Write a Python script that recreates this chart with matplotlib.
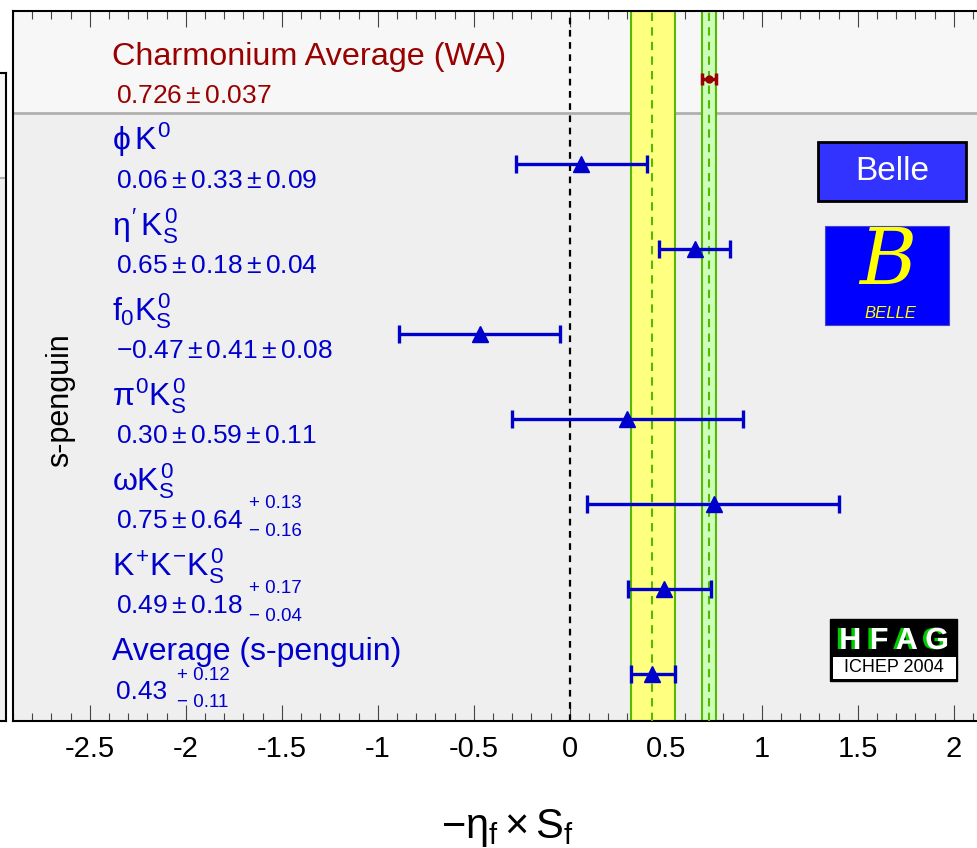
import matplotlib
matplotlib.use("Agg")
import matplotlib.pyplot as plt
import matplotlib.patches as patches
import matplotlib.patheffects as pe
import numpy as np

plt.rcParams['font.family'] = ['Liberation Sans', 'DejaVu Sans']
plt.rcParams['mathtext.fontset'] = 'custom'
plt.rcParams['mathtext.rm'] = 'Liberation Sans'
plt.rcParams['mathtext.it'] = 'Liberation Sans'
plt.rcParams['mathtext.sf'] = 'Liberation Sans'

# ---- data ----
modes = [r"$\phi\,K^0$", r"$\eta'\,K^0_S$", r"$f_0K^0_S$", r"$\pi^0K^0_S$",
         r"$\omega K^0_S$", r"$K^{{+}}K^{{-}}K^0_S$", "Average (s-penguin)"]
central = [0.06, 0.65, -0.47, 0.30, 0.75, 0.49, 0.43]
stat = [0.33, 0.18, 0.41, 0.59, 0.64, 0.18, 0.0]
syst_up = [0.09, 0.04, 0.08, 0.11, 0.13, 0.17, 0.12]
syst_dn = [0.09, 0.04, 0.08, 0.11, 0.16, 0.04, 0.11]
charm_val = 0.726
charm_err = 0.037
xticks = [-2.5, -2, -1.5, -1, -0.5, 0, 0.5, 1, 1.5, 2]
xticklabels = ['-2.5', '-2', '-1.5', '-1', '-0.5', '0', '0.5', '1', '1.5', '2']

blue = '#0000cc'
red = '#990000'
W, H = 978, 848

def fx(px):
    return px / W

def fy(py):
    return 1 - py / H

fig = plt.figure(figsize=(9.78, 8.48), dpi=100)

# partial neighbouring panel on the far left
axl = fig.add_axes([fx(-60), fy(721), fx(66), (721 - 73) / H])
axl.set_xlim(0, 1)
axl.set_ylim(0, 1)
axl.set_facecolor('#efefef')
axl.axhspan((721 - 178) / (721 - 73), 1, color='#f7f7f7')
axl.axhline((721 - 178) / (721 - 73), color='#b0b0b0', lw=1.5)
axl.set_xticks([])
axl.set_yticks([])
for s in axl.spines.values():
    s.set_linewidth(1.5)

ax = fig.add_axes([fx(13), fy(721), 5.1 * 192 / W, (721 - 10.5) / H])
ax.set_xlim(-2.9, 2.2)
ax.set_ylim(0.447, 8.806)
ax.set_facecolor('#efefef')
ax.axhspan(7.6, 9, color='#f7f7f7', zorder=0)
ax.axhline(7.6, color='#b0b0b0', lw=2, zorder=1)

# bands
avg = central[-1]
ax.axvspan(avg - syst_dn[-1], avg + syst_up[-1], facecolor='#ffff80',
           edgecolor='#55bb00', lw=1.5, zorder=2)
ax.axvline(avg, color='#55bb00', ls=(0, (4, 3)), lw=1.5, zorder=3)
ax.axvspan(charm_val - charm_err, charm_val + charm_err, facecolor='#ccffbb',
           edgecolor='#55bb00', lw=1.5, zorder=2)
ax.axvline(charm_val, color='#55bb00', ls=(0, (4, 3)), lw=1.5, zorder=3)
ax.axvline(0, color='black', ls=(0, (3, 2.5)), lw=1.6, zorder=3)

# measurements
ypos = np.arange(len(modes), 0, -1)
err_up = np.sqrt(np.array(stat) ** 2 + np.array(syst_up) ** 2)
err_dn = np.sqrt(np.array(stat) ** 2 + np.array(syst_dn) ** 2)
ax.errorbar(central, ypos, xerr=[err_dn, err_up], fmt='^', color=blue,
            ms=11, lw=2.4, capsize=6.5, capthick=2.4, zorder=5)
ax.errorbar([charm_val], [8], xerr=[charm_err], fmt='o', color=red,
            ms=5, lw=2.5, capsize=4, capthick=2.5, zorder=5)

# texts
xn = -2.385
xv = -2.365
ax.text(xn, 8.16, "Charmonium Average (WA)", color=red, fontsize=23.3)
ax.text(xv, 8 - 0.28, r"$0.726\pm0.037$", color=red, fontsize=19)
for i, (m, c, st, su, sd, y) in enumerate(zip(modes, central, stat, syst_up, syst_dn, ypos)):
    ax.text(xn, y + 0.16, m, color=blue, fontsize=23)
    if st > 0:
        if su == sd:
            ax.text(xv, y - 0.28, r"$%.2f\pm%.2f\pm%.2f$" % (c, st, su),
                    color=blue, fontsize=19)
        else:
            ax.text(xv, y - 0.28, r"$%.2f\pm%.2f$" % (c, st), color=blue, fontsize=19)
            ax.text(-1.673, y, "+ %.2f" % su, color=blue, fontsize=13.5, va='center')
            ax.text(-1.673, y - 0.32, "\u2212 %.2f" % sd, color=blue, fontsize=13.5, va='center')
    else:
        ax.text(xv, y - 0.3, "%.2f" % c, color=blue, fontsize=19)
        ax.text(-2.044, y - 0.02, "+ %.2f" % su, color=blue, fontsize=13.5, va='center')
        ax.text(-2.044, y - 0.33, "\u2212 %.2f" % sd, color=blue, fontsize=13.5, va='center')

# axes styling
ax.set_xticks(xticks)
ax.set_xticklabels(xticklabels, fontsize=21)
ax.set_xticks(np.arange(-2.9, 2.21, 0.1), minor=True)
ax.tick_params(axis='x', which='major', direction='in', length=11.5, width=0.8,
               color='#444444', top=True, bottom=True, pad=10)
ax.tick_params(axis='x', which='minor', direction='in', length=5.5, width=0.8,
               color='#444444', top=True, bottom=True)
ax.set_yticks([])
for s in ax.spines.values():
    s.set_linewidth(1.5)

fig.text(fx(60), fy(400), "s-penguin", rotation=90, fontsize=22,
         ha='center', va='center')
fig.text(fx(507), fy(828), r"$-\eta_{f}\times S_{f}$", fontsize=30,
         ha='center', va='center')

# Belle label box
fig.patches.append(patches.Rectangle((fx(818), fy(201)), fx(148), 59 / H,
                                     transform=fig.transFigure, facecolor='#3333ff',
                                     edgecolor='black', lw=2, zorder=6))
fig.text(fx(892), fy(171), "Belle", color='white', fontsize=24,
         ha='center', va='center', zorder=7)

# Belle logo
fig.patches.append(patches.Rectangle((fx(825), fy(325)), fx(124), 99 / H,
                                     transform=fig.transFigure, facecolor='#0000ff',
                                     edgecolor='#4444cc', lw=0.8, zorder=6))
fig.text(fx(888), fy(262), "B", color='#ffff00', fontsize=56, family='DejaVu Serif',
         style='italic', ha='center', va='center', zorder=7)
fig.text(fx(890), fy(313), "BELLE", color='#ffff00', fontsize=12, style='italic',
         ha='center', va='center', zorder=7)

# HFAG logo
fig.patches.append(patches.Rectangle((fx(830), fy(681)), fx(127), 62 / H,
                                     transform=fig.transFigure, facecolor='black',
                                     edgecolor='black', zorder=6))
fig.patches.append(patches.Rectangle((fx(833), fy(679)), fx(123), 22 / H,
                                     transform=fig.transFigure, facecolor='white',
                                     edgecolor='none', zorder=7))
fig.text(fx(894), fy(641), "H F A G", color='white', fontsize=22,
         fontweight='bold', ha='center', va='center', zorder=9,
         path_effects=[pe.SimplePatchShadow(offset=(-2.5, 0), shadow_rgbFace='#00cc00',
                                            alpha=1.0), pe.Normal()])
fig.text(fx(894), fy(668), "ICHEP 2004", color='black', fontsize=13,
         ha='center', va='center', zorder=8)

fig.savefig('out.png', dpi=100)
